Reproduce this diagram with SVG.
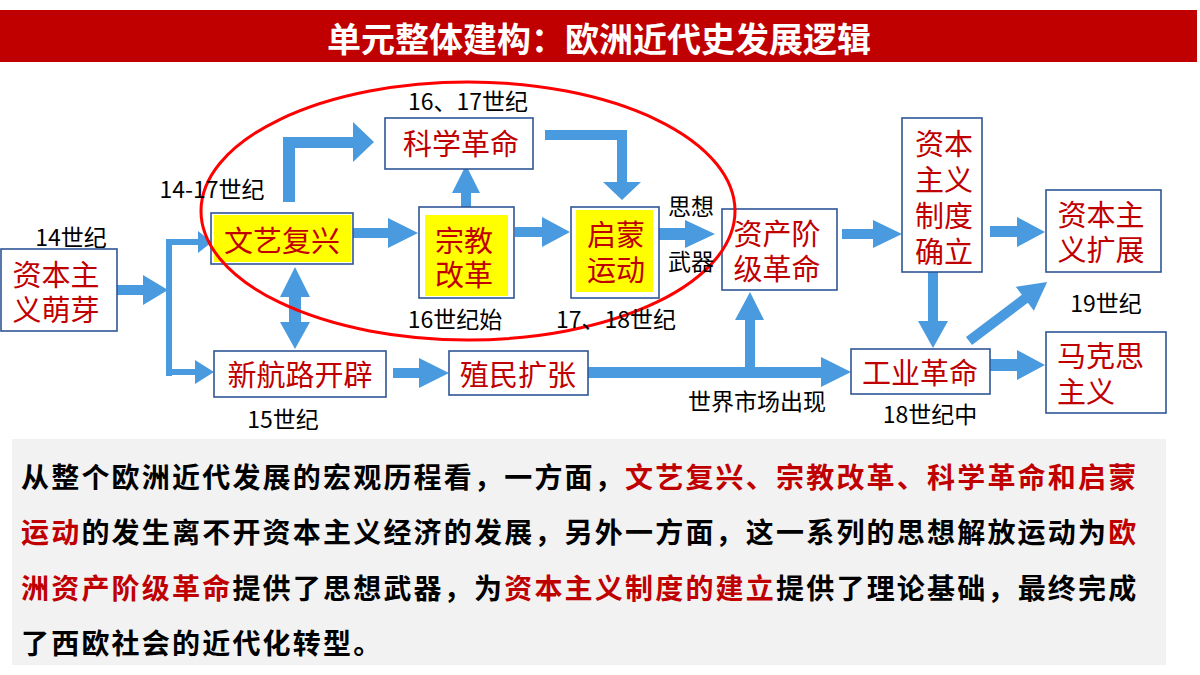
<svg xmlns="http://www.w3.org/2000/svg" width="1200" height="675" viewBox="0 0 1200 675">
<style>
.box{fill:#fff;stroke:#2F5597;stroke-width:1.6}
.hl{fill:#FFFF00}
.nt{font-family:"Noto Sans CJK SC","Noto Sans",sans-serif;font-size:29px;fill:#C00000;text-anchor:middle;dominant-baseline:central}
.ns{text-anchor:start}
.lb{font-family:"Noto Sans CJK SC","Noto Sans",sans-serif;font-size:23px;fill:#000;text-anchor:middle;dominant-baseline:central}
.ar{fill:#4A9ADF}
.bt{font-family:"Noto Sans CJK SC","Noto Sans",sans-serif;font-size:28px;font-weight:bold;letter-spacing:2.2px;fill:#000;dominant-baseline:central}
.rd{fill:#C00000}
</style>
<rect width="1200" height="675" fill="#fff"/>
<g id="title">
<rect x="0" y="10" width="1197" height="52" fill="#C00000"/>
<text x="599" y="37" font-family="'Noto Sans CJK SC',sans-serif" font-size="34" font-weight="bold" fill="#fff" text-anchor="middle" dominant-baseline="central">单元整体建构：欧洲近代史发展逻辑</text>
</g>

<g id="connectors">
<polygon class="ar" points="117,285 143,285 143,275 168,290 143,305 143,295 117,295"/>
<rect class="ar" x="166" y="239" width="6" height="137"/>
<polygon class="ar" points="166,239 198,239 198,231 212,242 198,253 198,245 166,245"/>
<polygon class="ar" points="166,369 195,369 195,360 214,372 195,384 195,375 166,375"/>
<polygon class="ar" points="283,202 283,137 353,137 353,122 374,142 353,162 353,148 295,148 295,202"/>
<polygon class="ar" points="295,267 310,297 301,297 301,322 310,322 295,349 280,322 289,322 289,297 280,297"/>
<polygon class="ar" points="353,228 388,228 388,218 418,233 388,248 388,238 353,238"/>
<polygon class="ar" points="461,207 461,193 452,193 466,165 480,193 471,193 471,207"/>
<polygon class="ar" points="545,130 627,130 627,182 641,182 622,200 603,182 617,182 617,140 545,140"/>
<polygon class="ar" points="515,227 542,227 542,217 570,232 542,247 542,237 515,237"/>
<polygon class="ar" points="659,228 685,228 685,220 715,234 685,248 685,240 659,240"/>
<polygon class="ar" points="393,368 419,368 419,358 449,373 419,388 419,378 393,378"/>
<polygon class="ar" points="588,367 821,367 821,357 851,372 821,387 821,378 588,378"/>
<polygon class="ar" points="745,367 745,320 735,320 750,292 764,320 755,320 755,367"/>
<polygon class="ar" points="842,229 873,229 873,220 902,234 873,248 873,239 842,239"/>
<polygon class="ar" points="990,226 1017,226 1017,217 1045,232 1017,247 1017,237 990,237"/>
<polygon class="ar" points="928,272 938,272 938,321 948,321 933,348 918,321 928,321"/>
<polygon class="ar" points="990,359 1017,359 1017,350 1045,365 1017,380 1017,371 990,371"/>
<polygon class="ar" transform="translate(969,341) rotate(-37.1)" points="0,-5 70,-5 70,-15 98,0 70,15 70,5 0,5"/>
</g>

<g id="n-zbzymy">
<rect class="box" x="1" y="249" width="116" height="82"/>
<text class="nt" x="56" y="273">资本主<tspan x="56" dy="35">义萌芽</tspan></text>
</g>
<g id="n-wyfx">
<rect class="box" x="211" y="213" width="142" height="51"/>
<rect class="hl" x="214" y="215" width="137" height="47"/>
<text class="nt" x="282" y="239">文艺复兴</text>
</g>
<g id="n-kxgm">
<rect class="box" x="385" y="118" width="148" height="51"/>
<text class="nt" x="461" y="142">科学革命</text>
</g>
<g id="n-zjgg">
<rect class="box" x="419" y="207" width="95" height="91"/>
<rect class="hl" x="425" y="215" width="83" height="81"/>
<text class="nt" x="464" y="239">宗教<tspan x="464" dy="34">改革</tspan></text>
</g>
<g id="n-qmyd">
<rect class="box" x="571" y="207" width="88" height="91"/>
<rect class="hl" x="576" y="210" width="77" height="82"/>
<text class="nt" x="616" y="233">启蒙<tspan x="616" dy="35">运动</tspan></text>
</g>
<g id="n-zcjjgm">
<rect class="box" x="722" y="209" width="115" height="81"/>
<text class="nt" x="777" y="232">资产阶<tspan x="777" dy="35">级革命</tspan></text>
</g>
<g id="n-zdql">
<rect class="box" x="902" y="118" width="80" height="154"/>
<text class="nt" x="944" y="142">资本<tspan x="944" dy="36">主义</tspan><tspan x="944" dy="36">制度</tspan><tspan x="944" dy="36">确立</tspan></text>
</g>
<g id="n-kz">
<rect class="box" x="1046" y="190" width="115" height="82"/>
<text class="nt" x="1101" y="213">资本主<tspan x="1101" dy="35">义扩展</tspan></text>
</g>
<g id="n-xhlkp">
<rect class="box" x="214" y="351" width="172" height="46"/>
<text class="nt" x="300" y="373">新航路开辟</text>
</g>
<g id="n-zmkz">
<rect class="box" x="449" y="351" width="139" height="44"/>
<text class="nt" x="518" y="373">殖民扩张</text>
</g>
<g id="n-gygm">
<rect class="box" x="851" y="349" width="139" height="45"/>
<text class="nt" x="920" y="371">工业革命</text>
</g>
<g id="n-mkszy">
<rect class="box" x="1046" y="332" width="120" height="81"/>
<text class="nt ns" x="1057" y="354">马克思<tspan x="1057" dy="36">主义</tspan></text>
</g>

<ellipse cx="468" cy="211" rx="267" ry="129" fill="none" stroke="#FF0000" stroke-width="3"/>

<g id="labels">
<text class="lb" x="71" y="236">14世纪</text>
<text class="lb" x="212" y="188">14-17世纪</text>
<text class="lb" x="468" y="100">16、17世纪</text>
<text class="lb" x="455" y="318">16世纪始</text>
<text class="lb" x="616" y="318">17、18世纪</text>
<text class="lb" x="691" y="205">思想</text>
<text class="lb" x="691" y="260">武器</text>
<text class="lb" x="283" y="418">15世纪</text>
<text class="lb" x="757" y="400">世界市场出现</text>
<text class="lb" x="930" y="413">18世纪中</text>
<text class="lb" x="1106" y="302">19世纪</text>
</g>

<g id="summary">
<rect x="12" y="439" width="1154" height="226" fill="#F2F2F2"/>
<text class="bt" x="21" y="476">从整个欧洲近代发展的宏观历程看，一方面，<tspan class="rd">文艺复兴、宗教改革、科学革命和启蒙</tspan></text>
<text class="bt" x="21" y="531"><tspan class="rd">运动</tspan>的发生离不开资本主义经济的发展，另外一方面，这一系列的思想解放运动为<tspan class="rd">欧</tspan></text>
<text class="bt" x="21" y="587"><tspan class="rd">洲资产阶级革命</tspan>提供了思想武器，为<tspan class="rd">资本主义制度的建立</tspan>提供了理论基础，最终完成</text>
<text class="bt" x="21" y="642">了西欧社会的近代化转型。</text>
</g>
</svg>
